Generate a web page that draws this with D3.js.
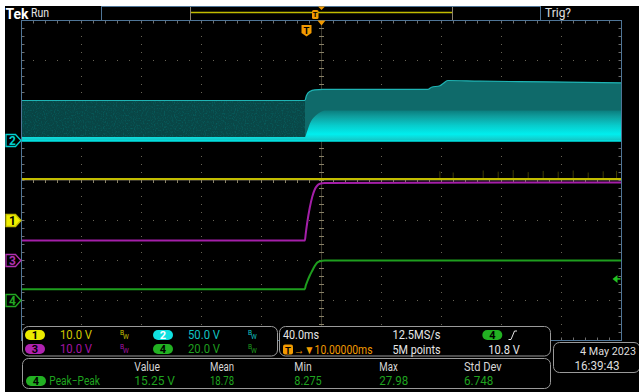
<!DOCTYPE html>
<html><head><meta charset="utf-8">
<script src="https://cdn.jsdelivr.net/npm/d3@7"></script>
<style>html,body{margin:0;padding:0;background:#fff}svg{display:block}</style>
</head><body>
<svg id="c" width="639" height="392"></svg>
<script>
// ---------------- data ----------------
const timeRange = [-190, 210];          // ms, 40 ms/div over 10 divisions
const divRange = [-4, 4];               // vertical divisions
const voltsPerDiv = [10, 50, 10, 20];   // CH1..CH4
const groundDiv = [-1, 1, -2, -3];      // channel ground marker position (div)

const ch1Times = [-190, 210];
const ch1Volts = [10.4, 10.4];
const ch1SpikeTimes = [88.9, 97.8, 117.8, 127.8, 137.8, 147.8, 157.8, 167.8, 177.8, 187.8, 197.8, 206.7];
const ch1SpikePeaks = [12.3, 12.0, 12.5, 12.2, 12.6, 12.1, 12.4, 12.2, 12.5, 12.0, 12.3, 12.4];

const ch2Times = [-190, -1.1, 0, 2.2, 5.5, 10.9, 81, 83.3, 88.9, 90.9, 94.2, 115.5, 160, 210];
const ch2Max   = [50, 50, 56.3, 61.3, 63.4, 63.8, 63.8, 66.6, 68.4, 71, 75, 74.1, 73.4, 72.1];
const ch2DenseTimes = [-190, -1.1, 0.5, 2.2, 5.5, 8.9, 12.2, 210];
const ch2DenseTop   = [4.4, 4.4, 12, 21, 30, 35, 37.5, 37.5];
const ch2MinTimes = [-190, 210];
const ch2Min      = [-0.6, -0.6];

const ch3Times = [-190, -1.1, -0.5, 0.5, 2.2, 3.9, 5.5, 7.2, 8.9, 12.2, 210];
const ch3Volts = [5, 5, 6.75, 9.5, 13.25, 16, 17.75, 18.75, 19.2, 19.4, 19.5];
const ch4Times = [-190, -1.1, -0.5, 0.5, 2.2, 3.9, 5.5, 7.2, 8.9, 12.2, 210];
const ch4Volts = [5.65, 5.65, 7.5, 9.5, 12.5, 15, 17.25, 19, 19.65, 20, 20];

const triggerLevel = 10.8;  // V on CH4

const scaleLabels = ["10.0 V", "50.0 V", "10.0 V", "20.0 V"];
const measHeaders = ["Value", "Mean", "Min", "Max", "Std Dev"];
const measValues  = ["15.25 V", "18.78", "8.275", "27.98", "6.748"];

// ---------------- styles ----------------
const C = {
  y: "#c2bc00", c: "#00e6e6", m: "#a41fa8", g: "#1e9e1e",
  orange: "#f29a00", border: "#4f7597", grid: "#686456", panel: "#9a9a9a"
};
const FONT = "Roboto, 'Liberation Sans', sans-serif";

const W = 639, H = 392;
const svg = d3.select("#c");
svg.append("rect").attr("width", W).attr("height", H).attr("fill", "#fff");
svg.append("rect").attr("x", 5).attr("y", 6).attr("width", W - 5).attr("height", H - 6).attr("fill", "#000");

const P = {l: 21.5, r: 621.5, t: 20.5, b: 340.5};
const x = d3.scaleLinear().domain(timeRange).range([P.l, P.r]);
const yDiv = d3.scaleLinear().domain(divRange).range([P.b, P.t]);
const yCh = i => v => yDiv(groundDiv[i] + v / voltsPerDiv[i]);

function label(g, px, py, str, fill, size, width, opts = {}) {
  const t = g.append("text").attr("x", px).attr("y", py).text(str)
    .attr("fill", fill).attr("font-family", FONT).attr("font-size", size)
    .attr("dominant-baseline", "central")
    .attr("font-weight", opts.weight || "normal")
    .attr("text-anchor", opts.anchor || "start");
  if (width) t.attr("textLength", width).attr("lengthAdjust", "spacingAndGlyphs");
  return t;
}

// ---------------- graticule ----------------
const grid = svg.append("g");
const vLines = d3.range(timeRange[0] + 40, timeRange[1], 40).filter(t => t !== 10);
const hLines = d3.range(divRange[0] + 1, divRange[1]).filter(d => d !== 0);
const dotYs = d3.range(P.t, P.b + 0.1, 8);
const dotXs = d3.range(P.l, P.r + 0.1, 12);
vLines.forEach(t => {
  dotYs.forEach(yy => grid.append("rect").attr("x", x(t) - 0.5).attr("y", yy - 0.5).attr("width", 1).attr("height", 1).attr("fill", C.grid));
});
hLines.forEach(d => {
  dotXs.forEach(xx => grid.append("rect").attr("x", xx - 0.5).attr("y", yDiv(d) - 0.5).attr("width", 1).attr("height", 1).attr("fill", C.grid));
});
// center lines with minor ticks
const cx = x(10), cy = yDiv(0);
grid.append("line").attr("x1", cx).attr("x2", cx).attr("y1", P.t).attr("y2", P.b).attr("stroke", "#3a372c");
grid.append("line").attr("x1", P.l).attr("x2", P.r).attr("y1", cy).attr("y2", cy).attr("stroke", "#3a372c");
dotYs.forEach(yy => grid.append("line").attr("x1", cx - 2.5).attr("x2", cx + 2.5).attr("y1", yy).attr("y2", yy).attr("stroke", "#8a8268"));
dotXs.forEach(xx => grid.append("line").attr("x1", xx).attr("x2", xx).attr("y1", cy - 2.5).attr("y2", cy + 2.5).attr("stroke", "#8a8268"));
// border ticks
dotXs.forEach(xx => {
  grid.append("line").attr("x1", xx).attr("x2", xx).attr("y1", P.t).attr("y2", P.t + 3).attr("stroke", "#6d6d6d");
  grid.append("line").attr("x1", xx).attr("x2", xx).attr("y1", P.b - 3).attr("y2", P.b).attr("stroke", "#6d6d6d");
});
dotYs.forEach(yy => {
  grid.append("line").attr("x1", P.l).attr("x2", P.l + 3).attr("y1", yy).attr("y2", yy).attr("stroke", "#6d6d6d");
  grid.append("line").attr("x1", P.r - 3).attr("x2", P.r).attr("y1", yy).attr("y2", yy).attr("stroke", "#6d6d6d");
});

// ---------------- waveforms ----------------
const defs = svg.append("defs");
const gDense = defs.append("linearGradient").attr("id", "dense").attr("gradientUnits", "userSpaceOnUse")
  .attr("x1", 0).attr("x2", 0).attr("y1", yCh(1)(38)).attr("y2", yCh(1)(-0.6));
[[0, "#0a7c7c"], [0.2, "#0f9d9d"], [0.5, "#08cccc"], [0.78, "#00eeee"], [0.9, "#0fd6d6"], [1, "#10c0c0"]]
  .forEach(([o, c]) => gDense.append("stop").attr("offset", o).attr("stop-color", c));
const trigX = x(-1.1);
const gEnv = defs.append("linearGradient").attr("id", "env").attr("gradientUnits", "userSpaceOnUse")
  .attr("x1", P.l).attr("x2", P.r).attr("y1", 0).attr("y2", 0);
const tOff = (trigX - P.l) / (P.r - P.l);
[[0, "#084444"], [tOff, "#094848"], [tOff, "#0f6a6a"], [1, "#0f6a6a"]]
  .forEach(([o, c]) => gEnv.append("stop").attr("offset", o).attr("stop-color", c));
const noise = defs.append("filter").attr("id", "noise").attr("x", 0).attr("y", 0).attr("width", 1).attr("height", 1);
noise.append("feTurbulence").attr("type", "fractalNoise").attr("baseFrequency", "0.9 0.6").attr("numOctaves", 1).attr("seed", 3).attr("result", "n");
noise.append("feColorMatrix").attr("in", "n").attr("type", "matrix")
  .attr("values", "0 0 0 0 0  0 0 0 0 0.3  0 0 0 0 0.3  0 0 0 1.0 -0.5").attr("result", "m");
noise.append("feComposite").attr("in", "m").attr("in2", "SourceGraphic").attr("operator", "in");

const wave = svg.append("g");
const y2 = yCh(1);
const maxPts = ch2Times.map((t, i) => [t, ch2Max[i]]);
const minAt = t => ch2Min[0];
// envelope area
wave.append("path")
  .attr("d", d3.area().x(d => x(d[0])).y0(d => y2(minAt(d[0]))).y1(d => y2(d[1])).curve(d3.curveMonotoneX)(maxPts))
  .attr("fill", "url(#env)");
// noise texture on pre-trigger band
wave.append("rect").attr("x", P.l).attr("y", y2(50)).attr("width", trigX - P.l).attr("height", y2(4.4) - y2(50))
  .attr("fill", "#094848").attr("filter", "url(#noise)");
// dense region
const densePts = ch2DenseTimes.map((t, i) => [t, ch2DenseTop[i]]);
wave.append("path")
  .attr("d", d3.area().x(d => x(d[0])).y0(d => y2(minAt(d[0]))).y1(d => y2(d[1])).curve(d3.curveMonotoneX)(densePts))
  .attr("fill", "url(#dense)");
// top outline
wave.append("path")
  .attr("d", d3.line().x(d => x(d[0])).y(d => y2(d[1])).curve(d3.curveMonotoneX)(maxPts))
  .attr("fill", "none").attr("stroke", "#1fb4b4").attr("stroke-width", 1.2);
// bottom line
wave.append("path")
  .attr("d", d3.line().x(d => x(d[0])).y(d => y2(d[1]))(ch2MinTimes.map((t, i) => [t, ch2Min[i]])))
  .attr("fill", "none").attr("stroke", C.c).attr("stroke-width", 1.6);

// CH1
const y1 = yCh(0);
ch1SpikeTimes.forEach((t, i) => {
  wave.append("line").attr("x1", x(t)).attr("x2", x(t)).attr("y1", y1(ch1Volts[0])).attr("y2", y1(ch1SpikePeaks[i]))
    .attr("stroke", "#6a6600").attr("stroke-width", 1).attr("opacity", 0.6);
});
wave.append("path")
  .attr("d", d3.line().x(d => x(d[0])).y(d => y1(d[1]))(ch1Times.map((t, i) => [t, ch1Volts[i]])))
  .attr("fill", "none").attr("stroke", C.y).attr("stroke-width", 2);

// CH3
const y3 = yCh(2);
wave.append("path")
  .attr("d", d3.line().x(d => x(d[0])).y(d => y3(d[1])).curve(d3.curveMonotoneX)(ch3Times.map((t, i) => [t, ch3Volts[i]])))
  .attr("fill", "none").attr("stroke", C.m).attr("stroke-width", 2);
// CH4
const y4 = yCh(3);
wave.append("path")
  .attr("d", d3.line().x(d => x(d[0])).y(d => y4(d[1])).curve(d3.curveMonotoneX)(ch4Times.map((t, i) => [t, ch4Volts[i]])))
  .attr("fill", "none").attr("stroke", C.g).attr("stroke-width", 2);

// plot border
svg.append("rect").attr("x", P.l).attr("y", P.t).attr("width", P.r - P.l).attr("height", P.b - P.t)
  .attr("fill", "none").attr("stroke", C.border).attr("stroke-width", 1);

// trigger level marker (CH4)
const tl = y4(triggerLevel);
svg.append("path").attr("d", `M${P.r - 9},${tl} L${P.r - 4},${tl - 4} L${P.r - 4},${tl + 4} Z`).attr("fill", "#22c422");
svg.append("line").attr("x1", P.r - 5).attr("x2", P.r - 1).attr("y1", tl).attr("y2", tl).attr("stroke", "#22c422").attr("stroke-width", 1.5);

// channel ground markers
const markerCol = [C.y, "#00d0d0", "#b030b0", "#22a822"];
[0, 1, 2, 3].forEach(i => {
  const yy = yDiv(groundDiv[i]);
  const filled = i === 0;
  svg.append("path").attr("d", `M6,${yy - 6} H15.5 L21,${yy} L15.5,${yy + 6} H6 Z`)
    .attr("fill", filled ? "#f0f000" : "#000").attr("stroke", markerCol[i]).attr("stroke-width", 1.3);
  label(svg, 12.5, yy + 0.5, String(i + 1), filled ? "#000" : markerCol[i], 12, null, {anchor: "middle", weight: "bold"});
});

// ---------------- top bar ----------------
label(svg, 5.5, 13.5, "Tek", "#fff", 15, 23, {weight: "bold"});
label(svg, 31, 13, "Run", "#e8e8e8", 12, 18);
svg.append("rect").attr("x", 101.5).attr("y", 6.5).attr("width", 439).attr("height", 14)
  .attr("fill", "none").attr("stroke", C.border);
svg.append("line").attr("x1", 190.5).attr("x2", 452.5).attr("y1", 12.5).attr("y2", 12.5).attr("stroke", C.y).attr("stroke-width", 1.5);
[190.5, 452.5].forEach(xx => svg.append("line").attr("x1", xx).attr("x2", xx).attr("y1", 7).attr("y2", 20).attr("stroke", "#8c8270"));
svg.append("rect").attr("x", 312).attr("y", 10).attr("width", 6.5).attr("height", 9).attr("rx", 1.5).attr("fill", C.orange);
label(svg, 315.2, 14.8, "T", "#000", 7.5, null, {anchor: "middle", weight: "bold"});
svg.append("path").attr("d", `M${cx - 3.5},6.5 L${cx + 3.5},6.5 L${cx},10 Z`).attr("fill", C.orange);
svg.append("path").attr("d", `M${cx - 4},${P.t} L${cx + 4},${P.t} L${cx},${P.t + 5} Z`).attr("fill", C.orange);
svg.append("path").attr("d", `M${x(0) - 5},25 h10 v8 l-5,3.5 l-5,-3.5 Z`).attr("fill", C.orange);
label(svg, x(0), 30, "T", "#000", 9.5, null, {anchor: "middle", weight: "bold"});
label(svg, 545, 13, "Trig?", "#e0e0e0", 12, 26);

// ---------------- bottom panels ----------------
const pan = svg.append("g");
function box(x0, y0, w, h) {
  pan.append("rect").attr("x", x0).attr("y", y0).attr("width", w).attr("height", h).attr("rx", 6)
    .attr("fill", "#000").attr("stroke", C.panel).attr("stroke-width", 1);
}
box(22.5, 326.5, 255, 29.5);
box(279.5, 326.5, 271, 29.5);
box(22.5, 358.5, 528, 30);
box(553.5, 342.5, 86.5, 30);

function badge(cxp, cyp, digit, fill, textFill, w = 20) {
  pan.append("rect").attr("x", cxp - w / 2).attr("y", cyp - 5).attr("width", w).attr("height", 10).attr("rx", 5).attr("fill", fill);
  label(pan, cxp, cyp + 0.5, digit, textFill, 11, null, {anchor: "middle", weight: "bold"});
}
function bw(x0, yc, col) {
  label(pan, x0, yc - 2.5, "B", col, 6.5, null);
  label(pan, x0 + 3, yc + 1.5, "W", col, 6.5, null);
}
const badgeFill = ["#ecec00", "#10e0e0", "#b022b0", "#22b022"];
const badgeText = ["#000", "#fff", "#000", "#000"];
const textCol = ["#d2c800", "#10c4c4", "#a414a4", "#1f9f1f"];
const rowsY = [335, 349];
[[0, 0, 35], [1, 0, 163], [2, 1, 35], [3, 1, 163]].forEach(([i, r, bx]) => {
  badge(bx, rowsY[r], String(i + 1), badgeFill[i], badgeText[i]);
  label(pan, bx + 25, rowsY[r], scaleLabels[i], textCol[i], 12, 32);
  bw(bx + 85, rowsY[r], i === 0 ? "#c8c000" : textCol[i]);
});
// timebase panel
label(pan, 283, 335, "40.0ms", "#e6e6e6", 12, 36);
label(pan, 392.5, 335, "12.5MS/s", "#e6e6e6", 12, 48);
badge(492.3, 335, "4", "#22b022", "#000");
pan.append("path").attr("d", "M508.5,339.5 h2.5 l3.5,-8.5 h2.5").attr("fill", "none").attr("stroke", "#e6e6e6").attr("stroke-width", 1);
pan.append("rect").attr("x", 283).attr("y", 344.5).attr("width", 10).attr("height", 10).attr("rx", 2).attr("fill", C.orange);
label(pan, 288, 350, "T", "#000", 9.5, null, {anchor: "middle", weight: "bold"});
label(pan, 294, 349.5, "\u2192\u25BC10.00000ms", C.orange, 12, 78.5);
label(pan, 392.5, 349.5, "5M points", "#e6e6e6", 12, 48);
label(pan, 488.3, 349.5, "10.8 V", "#e6e6e6", 12, 31.5);
// measurement panel
const colX = [134.3, 210, 294.3, 379.3, 464];
const hdrW = [25.7, 24, 17.4, 18.4, 37.7];
const valW = [40.7, 24, 27.4, 29, 29.3];
measHeaders.forEach((h, i) => label(pan, colX[i], 366.5, h, "#d6d6d6", 12, hdrW[i]));
badge(36, 381, "4", "#22b022", "#000");
label(pan, 49.3, 381, "Peak\u2212Peak", "#1fa31f", 12, 50.7);
measValues.forEach((v, i) => label(pan, colX[i], 381, v, "#1fa31f", 12, valW[i]));
// date box
label(pan, 580, 351.7, "4 May 2023", "#dedede", 11, 56);
label(pan, 574.5, 365.7, "16:39:43", "#dedede", 12, 45);
</script>
</body></html>
